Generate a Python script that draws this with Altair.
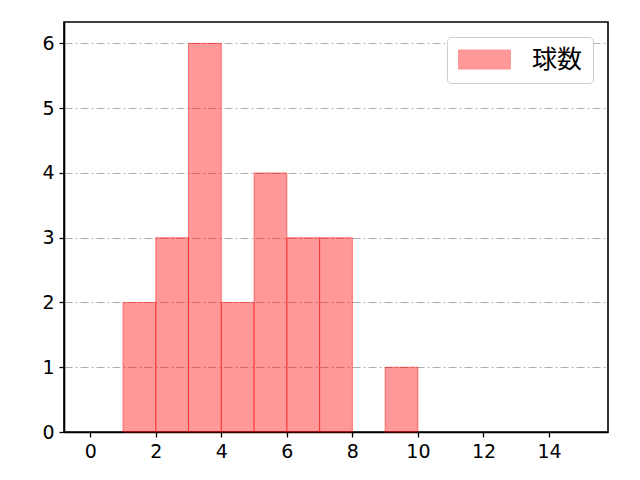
import altair as alt
import pandas as pd

bin_start = [1, 2, 3, 4, 5, 6, 7, 9]
bin_end = [2, 3, 4, 5, 6, 7, 8, 10]
counts = [2, 3, 6, 2, 4, 3, 3, 1]
series = ["球数"] * len(counts)

df = pd.DataFrame({"start": bin_start, "end": bin_end, "count": counts, "series": series})

FONT = "Noto Sans CJK JP"
TICK_FONT = "DejaVu Sans"

bars = alt.Chart(df).mark_rect(
    fillOpacity=0.4, stroke="red", strokeOpacity=0.45, strokeWidth=1
).encode(
    x=alt.X("start:Q",
            scale=alt.Scale(domain=[-0.8, 15.8], nice=False, zero=False),
            axis=alt.Axis(values=[0, 2, 4, 6, 8, 10, 12, 14], title=None, grid=False,
                          labelFontSize=19, tickSize=5, labelPadding=5)),
    x2="end:Q",
    y=alt.Y("count:Q",
            scale=alt.Scale(domain=[0, 6.33], nice=False),
            axis=alt.Axis(values=[0, 1, 2, 3, 4, 5, 6], title=None, grid=True,
                          gridColor="#b0b0b0", gridDash=[8, 3, 2, 3], gridWidth=1,
                          labelFontSize=19, tickSize=5, labelPadding=5)),
    y2=alt.datum(0),
    color=alt.Color("series:N",
                    scale=alt.Scale(range=["red"]),
                    legend=alt.Legend(title=None, orient="none", legendX=383, legendY=15,
                                      symbolType="M-1.1,-0.95L4.1,-0.95L4.1,0.95L-1.1,0.95Z",
                                      symbolSize=400, symbolOpacity=0.4,
                                      symbolStrokeColor="red", symbolStrokeWidth=1,
                                      labelFontSize=25, labelOffset=50,
                                      padding=10, fillColor="white",
                                      strokeColor="#cccccc", cornerRadius=4)),
)

chart = bars.properties(
    width=544, height=410,
    autosize=alt.AutoSizeParams(type="none"),
    padding={"left": 56, "top": 14, "right": 24, "bottom": 40},
).configure(
    font=FONT
).configure_view(
    stroke="black", strokeWidth=1.6
).configure_axis(
    domainColor="black", domainWidth=1.6, tickColor="black", tickWidth=1.3,
    labelColor="black", labelFont=TICK_FONT
).configure_legend(
    labelFont=FONT, labelColor="black"
)

chart.save("out.html", embed_options={"renderer": "svg", "actions": False})
